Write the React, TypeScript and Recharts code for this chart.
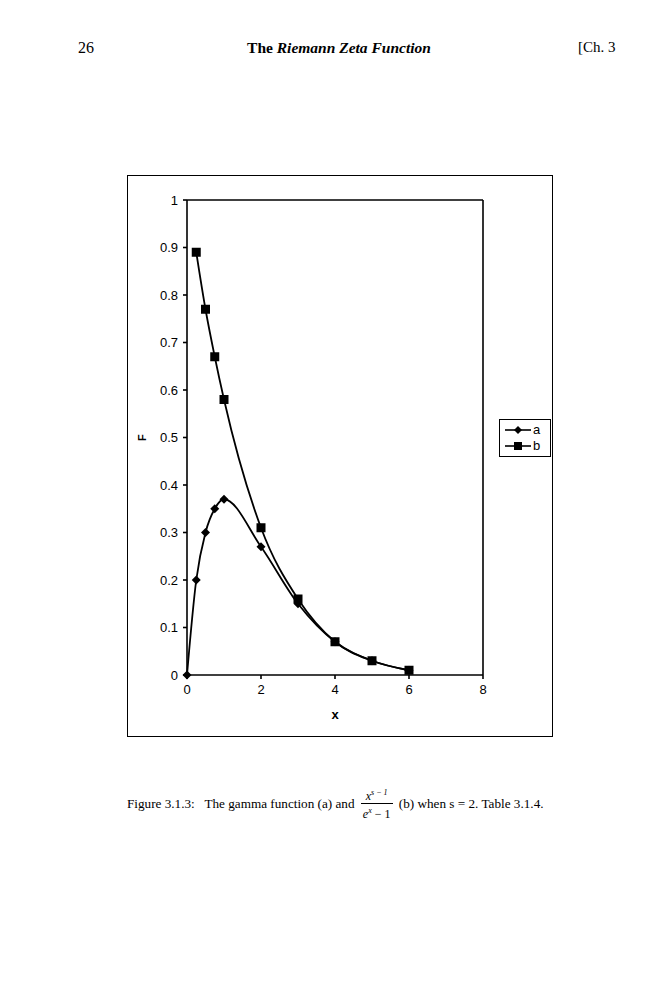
import React from "react";
import {
  Label,
  Legend,
  Line,
  LineChart,
  ReferenceLine,
  XAxis,
  YAxis,
} from "recharts";

const xValues = [0, 0.25, 0.5, 0.75, 1, 2, 3, 4, 5, 6];
const gammaValues = [0, 0.2, 0.3, 0.35, 0.37, 0.27, 0.15, 0.07, 0.03, 0.01];
const ratioValues = [null, 0.89, 0.77, 0.67, 0.58, 0.31, 0.16, 0.07, 0.03, 0.01];
const xTicks = [0, 2, 4, 6, 8];
const yTicks = [0, 0.1, 0.2, 0.3, 0.4, 0.5, 0.6, 0.7, 0.8, 0.9, 1];
const seriesNames = ["a", "b"];

const data = xValues.map((x, i) => ({
  x,
  a: gammaValues[i],
  b: ratioValues[i],
}));

const sans = "'Liberation Sans', Arial, sans-serif";
const serif = "'Liberation Serif', 'Times New Roman', serif";

const Diamond = ({ cx, cy, s = 4.5 }: any) => (
  <path
    d={`M${cx},${cy - s} L${cx + s},${cy} L${cx},${cy + s} L${cx - s},${cy} Z`}
    fill="#000"
  />
);

const Square = ({ cx, cy, s = 4.5 }: any) => (
  <rect x={cx - s} y={cy - s} width={s * 2} height={s * 2} fill="#000" />
);

const diamondDot = (props: any) => {
  const { cx, cy, index } = props;
  if (cy == null || isNaN(cy)) return <g key={`da-${index}`} />;
  return <Diamond key={`da-${index}`} cx={cx} cy={cy} />;
};

const squareDot = (props: any) => {
  const { cx, cy, index } = props;
  if (cy == null || isNaN(cy)) return <g key={`sb-${index}`} />;
  return <Square key={`sb-${index}`} cx={cx} cy={cy} />;
};

const LegendBox = () => (
  <div
    style={{
      border: "1px solid #000",
      background: "#fff",
      padding: "2px 4px",
      fontFamily: sans,
      fontSize: 13,
      lineHeight: "16px",
    }}
  >
    {seriesNames.map((name, i) => (
      <div key={name} style={{ display: "flex", alignItems: "center" }}>
        <svg width={28} height={16}>
          <line x1={1} y1={8} x2={27} y2={8} stroke="#000" strokeWidth={1.6} />
          {i === 0 ? <Diamond cx={14} cy={8} s={4} /> : <Square cx={14} cy={8} s={4} />}
        </svg>
        <span style={{ marginLeft: 1 }}>{name}</span>
      </div>
    ))}
  </div>
);

const App = () => {
  return (
    <div
      style={{
        position: "absolute",
        left: 0,
        top: 0,
        width: 672,
        height: 1000,
        background: "#fff",
      }}
    >
      <div
        style={{
          position: "absolute",
          left: 78,
          top: 39,
          fontFamily: serif,
          fontSize: 16,
        }}
      >
        26
      </div>
      <div
        style={{
          position: "absolute",
          left: 0,
          width: 678,
          top: 39,
          textAlign: "center",
          fontFamily: serif,
          fontSize: 15.5,
          fontWeight: "bold",
        }}
      >
        The <i>Riemann Zeta Function</i>
      </div>
      <div
        style={{
          position: "absolute",
          left: 578,
          top: 39,
          fontFamily: serif,
          fontSize: 15,
        }}
      >
        [Ch. 3
      </div>

      <div style={{ position: "absolute", left: 127, top: 175 }}>
        <LineChart
          width={426}
          height={562}
          data={data}
          margin={{ top: 25, right: 70, left: 10, bottom: 12 }}
        >
          <XAxis
            dataKey="x"
            type="number"
            domain={[0, 8]}
            ticks={xTicks}
            height={50}
            stroke="#000"
            strokeWidth={1.6}
            tickSize={4}
            tickMargin={6}
            tick={{ fill: "#000", fontFamily: sans, fontSize: 13 }}
          >
            <Label
              value="x"
              position="insideBottom"
              offset={6}
              style={{
                fill: "#000",
                fontFamily: sans,
                fontSize: 13,
                fontWeight: "bold",
              }}
            />
          </XAxis>
          <YAxis
            type="number"
            domain={[0, 1]}
            ticks={yTicks}
            width={50}
            stroke="#000"
            strokeWidth={1.6}
            tickSize={4}
            tickMargin={5}
            tick={{ fill: "#000", fontFamily: sans, fontSize: 13 }}
          >
            <Label
              value="F"
              angle={-90}
              position="insideLeft"
              offset={5}
              style={{
                fill: "#000",
                fontFamily: sans,
                fontSize: 11,
                fontWeight: "bold",
                textAnchor: "middle",
              }}
            />
          </YAxis>
          <ReferenceLine y={1} stroke="#000" strokeWidth={1.6} />
          <ReferenceLine x={8} stroke="#000" strokeWidth={1.6} />
          <Line
            dataKey="a"
            type="monotone"
            stroke="#000"
            strokeWidth={1.8}
            dot={diamondDot}
            isAnimationActive={false}
          />
          <Line
            dataKey="b"
            type="monotone"
            stroke="#000"
            strokeWidth={1.8}
            dot={squareDot}
            isAnimationActive={false}
          />
          <Legend
            layout="horizontal"
            align="center"
            verticalAlign="middle"
            wrapperStyle={{ left: 372, top: 244, width: 52 }}
            content={() => <LegendBox />}
          />
        </LineChart>
        <div
          style={{
            position: "absolute",
            left: 0,
            top: 0,
            width: 426,
            height: 562,
            border: "1.5px solid #000",
            boxSizing: "border-box",
            pointerEvents: "none",
          }}
        />
      </div>

      <div
        style={{
          position: "absolute",
          left: 127,
          top: 786,
          fontFamily: serif,
          fontSize: 13.2,
          display: "flex",
          alignItems: "center",
          whiteSpace: "pre",
        }}
      >
        <span>Figure 3.1.3:   The gamma function (a) and </span>
        <span
          style={{
            display: "inline-flex",
            flexDirection: "column",
            alignItems: "center",
            margin: "0 3px",
            fontSize: 12,
            lineHeight: "14px",
          }}
        >
          <span style={{ fontStyle: "italic", padding: "0 2px" }}>
            x<sup style={{ fontSize: 8 }}>s − 1</sup>
          </span>
          <span
            style={{
              borderTop: "1px solid #000",
              padding: "0 2px",
            }}
          >
            <i>e</i>
            <sup style={{ fontSize: 8 }}>
              <i>x</i>
            </sup>{" "}
            − 1
          </span>
        </span>
        <span> (b) when s = 2. Table 3.1.4.</span>
      </div>
    </div>
  );
};

export default App;
